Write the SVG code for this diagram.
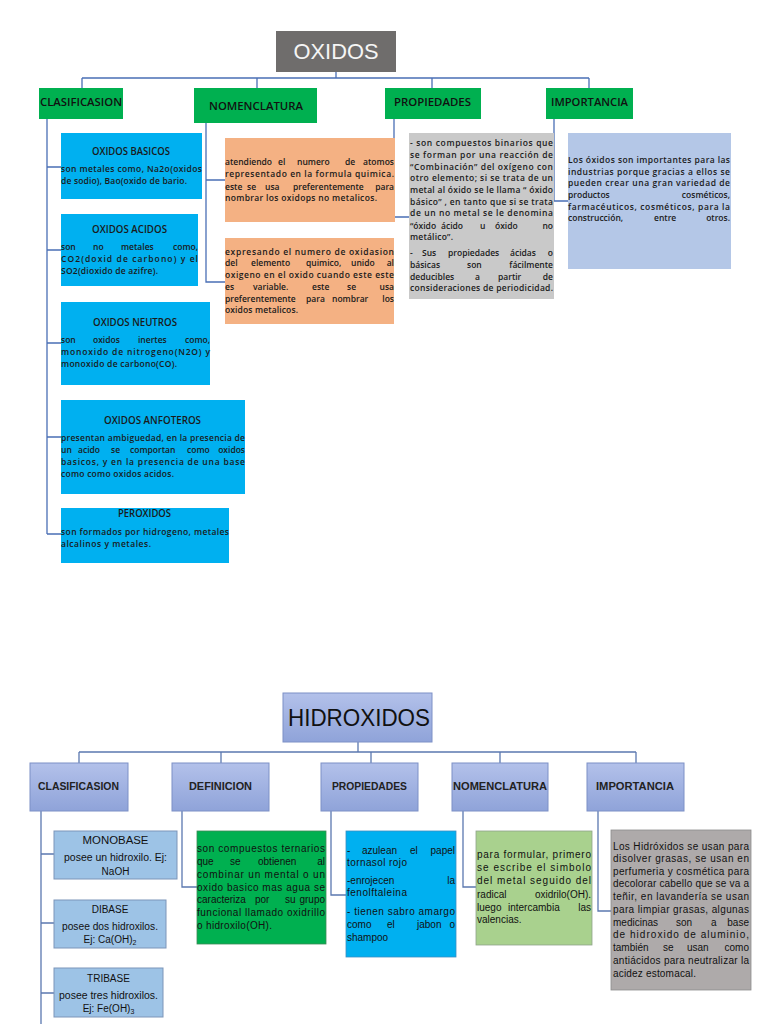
<svg xmlns="http://www.w3.org/2000/svg" width="768" height="1024" viewBox="0 0 768 1024">
<defs>
<linearGradient id="gb" x1="0" y1="0" x2="0" y2="1">
<stop offset="0" stop-color="#b3c1ea"/>
<stop offset="1" stop-color="#8fa3d9"/>
</linearGradient>
<style>
.t{font-family:"Open Sans","Liberation Sans",sans-serif;font-size:8.5px;font-weight:600;fill:#1a1a1a}
.tt{font-family:"Open Sans","Liberation Sans",sans-serif;font-size:10px;font-weight:600;fill:#1a1a1a}
.h{font-family:"Open Sans","Liberation Sans",sans-serif;font-size:10.5px;font-weight:600;fill:#111}
.b{font-family:"Liberation Sans","Open Sans",sans-serif;font-size:10px;fill:#111}
.bh{font-family:"Liberation Sans","Open Sans",sans-serif;font-size:10.5px;font-weight:bold;fill:#222}
.e{text-anchor:end}
.m{text-anchor:middle}
.c1{stroke:#4a6fb5;stroke-width:1.3;fill:none}
.c2{stroke:#5b78b0;stroke-width:1.3;fill:none}
.gh{fill:url(#gb);stroke:#7d90c6;stroke-width:1}
.sb{fill:#9dc3e6;stroke:#7c95b9;stroke-width:1}
</style>
</defs>
<rect width="768" height="1024" fill="#ffffff"/>

<g id="connectors">
<path class="c1" d="M336 72V78M82 78H589M82 78V88M257 78V88M432 78V88M589 78V88"/>
<path class="c1" d="M47 119V534M47 167H61M47 250H61M47 343H61M47 437H61M47 534H61"/>
<path class="c1" d="M206 123V282H225M206 180H225"/>
<path class="c1" d="M394 119V217H409"/>
<path class="c1" d="M554 119V201H568"/>
<path class="c2" d="M358 742V752M79 752H636M79 752V763M221 752V763M371 752V763M500 752V763M636 752V763"/>
<path class="c2" d="M41 811V1024M41 854H54M41 923H54M41 993H54"/>
<path class="c2" d="M182 811V887H197"/>
<path class="c2" d="M331 811V895H346"/>
<path class="c2" d="M463 811V887H476"/>
<path class="c2" d="M598 811V911H611"/>
</g>

<g id="oxidos">
<rect x="276" y="31" width="120" height="41" fill="#6f6d6c"/>
<text x="336" y="59" class="m" font-family="Liberation Sans, sans-serif" font-size="22" fill="#f5f5f5" textLength="85" lengthAdjust="spacingAndGlyphs">OXIDOS</text>
</g>

<g id="clasificasion-top">
<rect x="39" y="88" width="84" height="31" fill="#00b050"/>
<text x="40" y="106" class="h" textLength="82" lengthAdjust="spacingAndGlyphs">CLASIFICASION</text>
</g>
<g id="nomenclatura-top">
<rect x="194" y="88" width="123" height="35" fill="#00b050"/>
<text x="209" y="110" class="h" textLength="94" lengthAdjust="spacingAndGlyphs">NOMENCLATURA</text>
</g>
<g id="propiedades-top">
<rect x="385" y="88" width="96" height="31" fill="#00b050"/>
<text x="394" y="106" class="h" textLength="77" lengthAdjust="spacingAndGlyphs">PROPIEDADES</text>
</g>
<g id="importancia-top">
<rect x="546" y="88" width="87" height="31" fill="#00b050"/>
<text x="551" y="106" class="h" textLength="77" lengthAdjust="spacingAndGlyphs">IMPORTANCIA</text>
</g>

<g id="oxidos-basicos">
<rect x="61" y="133" width="141" height="66" fill="#00b0f0"/>
<text x="131" y="155" class="tt m" textLength="78" lengthAdjust="spacingAndGlyphs">OXIDOS BASICOS</text>
<text x="61" y="172" class="t" textLength="141" lengthAdjust="spacing">son metales como, Na2o(oxidos</text>
<text x="61" y="184" class="t" textLength="126" lengthAdjust="spacing">de sodio), Bao(oxido de bario.</text>
</g>

<g id="oxidos-acidos">
<rect x="61" y="214" width="137" height="72" fill="#00b0f0"/>
<text x="129.5" y="233" class="tt m" textLength="75" lengthAdjust="spacingAndGlyphs">OXIDOS ACIDOS</text>
<text y="250" class="t"><tspan x="61">son</tspan><tspan x="93">no</tspan><tspan x="121">metales</tspan><tspan x="198" class="e">como,</tspan></text>
<text x="61" y="262" class="t" textLength="137" lengthAdjust="spacing">CO2(doxid de carbono) y el</text>
<text x="61" y="274" class="t" textLength="97" lengthAdjust="spacing">SO2(dioxido de azifre).</text>
</g>

<g id="oxidos-neutros">
<rect x="61" y="302" width="149" height="83" fill="#00b0f0"/>
<text x="135" y="326" class="tt m" textLength="84" lengthAdjust="spacingAndGlyphs">OXIDOS NEUTROS</text>
<text y="343" class="t"><tspan x="61">son</tspan><tspan x="93">oxidos</tspan><tspan x="138">inertes</tspan><tspan x="210" class="e">como,</tspan></text>
<text x="61" y="355" class="t" textLength="149" lengthAdjust="spacing">monoxido de nitrogeno(N2O) y</text>
<text x="61" y="367" class="t" textLength="116" lengthAdjust="spacing">monoxido de carbono(CO).</text>
</g>

<g id="oxidos-anfoteros">
<rect x="61" y="400" width="184" height="94" fill="#00b0f0"/>
<text x="152.5" y="424" class="tt m" textLength="97" lengthAdjust="spacingAndGlyphs">OXIDOS ANFOTEROS</text>
<text x="61" y="441" class="t" textLength="184" lengthAdjust="spacing">presentan ambiguedad, en la presencia de</text>
<text y="453" class="t"><tspan x="61">un</tspan><tspan x="78">acido</tspan><tspan x="111">se</tspan><tspan x="130">comportan</tspan><tspan x="187">como</tspan><tspan x="245" class="e">oxidos</tspan></text>
<text x="61" y="465" class="t" textLength="184" lengthAdjust="spacing">basicos, y en la presencia de una base</text>
<text x="61" y="477" class="t" textLength="113" lengthAdjust="spacing">como como oxidos acidos.</text>
</g>

<g id="peroxidos">
<rect x="61" y="508" width="168" height="55" fill="#00b0f0"/>
<text x="144.5" y="517" class="tt m" textLength="53" lengthAdjust="spacingAndGlyphs">PEROXIDOS</text>
<text x="61" y="535" class="t" textLength="168" lengthAdjust="spacing">son formados por hidrogeno, metales</text>
<text x="61" y="547" class="t" textLength="90" lengthAdjust="spacing">alcalinos y metales.</text>
</g>

<g id="nomenclatura-atomos">
<rect x="225" y="138" width="170" height="84" fill="#f4b183"/>
<text y="165" class="t"><tspan x="225">atendiendo</tspan><tspan x="278">el</tspan><tspan x="297">numero</tspan><tspan x="345">de</tspan><tspan x="394" class="e">atomos</tspan></text>
<text x="225" y="177" class="t" textLength="169" lengthAdjust="spacing">representado en la formula quimica.</text>
<text y="190" class="t"><tspan x="225">este</tspan><tspan x="247">se</tspan><tspan x="265">usa</tspan><tspan x="293">preferentemente</tspan><tspan x="394" class="e">para</tspan></text>
<text x="225" y="201" class="t" textLength="152" lengthAdjust="spacing">nombrar los oxidops no metalicos.</text>
</g>

<g id="nomenclatura-oxidasion">
<rect x="225" y="238" width="169" height="86" fill="#f4b183"/>
<text x="225" y="255" class="t" textLength="169" lengthAdjust="spacing">expresando el numero de oxidasion</text>
<text y="266" class="t"><tspan x="225">del</tspan><tspan x="251">elemento</tspan><tspan x="306">quimico,</tspan><tspan x="351">unido</tspan><tspan x="394" class="e">al</tspan></text>
<text x="225" y="278" class="t" textLength="169" lengthAdjust="spacing">oxigeno en el oxido cuando este este</text>
<text y="290" class="t"><tspan x="225">es</tspan><tspan x="253">variable.</tspan><tspan x="312">este</tspan><tspan x="347">se</tspan><tspan x="394" class="e">usa</tspan></text>
<text y="302" class="t"><tspan x="225">preferentemente</tspan><tspan x="306">para</tspan><tspan x="332">nombrar</tspan><tspan x="394" class="e">los</tspan></text>
<text x="225" y="313" class="t" textLength="73" lengthAdjust="spacing">oxidos metalicos.</text>
</g>

<g id="propiedades-texto">
<rect x="409" y="133" width="145" height="166" fill="#c9c9c9"/>
<text x="410" y="146" class="t" textLength="143" lengthAdjust="spacing">- son compuestos binarios que</text>
<text x="410" y="158" class="t" textLength="143" lengthAdjust="spacing">se forman por una reacción de</text>
<text x="410" y="170" class="t" textLength="143" lengthAdjust="spacing">“Combinación” del oxígeno con</text>
<text x="410" y="181" class="t" textLength="143" lengthAdjust="spacing">otro elemento; si se trata de un</text>
<text x="410" y="193" class="t" textLength="143" lengthAdjust="spacing">metal al óxido se le llama “ óxido</text>
<text x="410" y="205" class="t" textLength="143" lengthAdjust="spacing">básico” , en tanto que si se trata</text>
<text x="410" y="216" class="t" textLength="143" lengthAdjust="spacing">de un no metal se le denomina</text>
<text y="229" class="t"><tspan x="410">“óxido</tspan><tspan x="441">ácido</tspan><tspan x="480">u</tspan><tspan x="495">óxido</tspan><tspan x="553" class="e">no</tspan></text>
<text x="410" y="240" class="t" textLength="43" lengthAdjust="spacing">metálico”.</text>
<text y="256" class="t"><tspan x="410">-</tspan><tspan x="422">Sus</tspan><tspan x="448">propiedades</tspan><tspan x="510">ácidas</tspan><tspan x="553" class="e">o</tspan></text>
<text y="268" class="t"><tspan x="410">básicas</tspan><tspan x="467">son</tspan><tspan x="553" class="e">fácilmente</tspan></text>
<text y="280" class="t"><tspan x="410">deducibles</tspan><tspan x="475">a</tspan><tspan x="498">partir</tspan><tspan x="553" class="e">de</tspan></text>
<text x="410" y="291" class="t" textLength="143" lengthAdjust="spacing">consideraciones de periodicidad.</text>
</g>

<g id="importancia-texto">
<rect x="568" y="133" width="163" height="136" fill="#b4c7e7"/>
<text x="568" y="163" class="t" textLength="162" lengthAdjust="spacing">Los óxidos son importantes para las</text>
<text x="568" y="175" class="t" textLength="162" lengthAdjust="spacing">industrias porque gracias a ellos se</text>
<text x="568" y="186" class="t" textLength="162" lengthAdjust="spacing">pueden crear una gran variedad de</text>
<text y="198" class="t"><tspan x="568">productos</tspan><tspan x="730" class="e">cosméticos,</tspan></text>
<text x="568" y="210" class="t" textLength="162" lengthAdjust="spacing">farmacéuticos, cosméticos, para la</text>
<text y="221" class="t"><tspan x="568">construcción,</tspan><tspan x="654">entre</tspan><tspan x="730" class="e">otros.</tspan></text>
</g>

<g id="hidroxidos">
<rect x="283" y="693" width="149" height="49" class="gh"/>
<text x="288" y="726" font-family="Liberation Sans, sans-serif" font-size="24" fill="#111" textLength="142" lengthAdjust="spacingAndGlyphs">HIDROXIDOS</text>
</g>

<g id="clasificasion-bottom">
<rect x="30" y="763" width="98" height="48" class="gh"/>
<text x="78.5" y="790" class="bh m" textLength="81" lengthAdjust="spacingAndGlyphs">CLASIFICASION</text>
</g>
<g id="definicion">
<rect x="172" y="763" width="97" height="48" class="gh"/>
<text x="220.5" y="790" class="bh m" textLength="63" lengthAdjust="spacingAndGlyphs">DEFINICION</text>
</g>
<g id="propiedades-bottom">
<rect x="321" y="763" width="97" height="48" class="gh"/>
<text x="369.5" y="790" class="bh m" textLength="75" lengthAdjust="spacingAndGlyphs">PROPIEDADES</text>
</g>
<g id="nomenclatura-bottom">
<rect x="452" y="763" width="96" height="48" class="gh"/>
<text x="500" y="790" class="bh m" textLength="94" lengthAdjust="spacingAndGlyphs">NOMENCLATURA</text>
</g>
<g id="importancia-bottom">
<rect x="587" y="763" width="97" height="48" class="gh"/>
<text x="635" y="790" class="bh m" textLength="78" lengthAdjust="spacingAndGlyphs">IMPORTANCIA</text>
</g>

<g id="monobase">
<rect x="54" y="831" width="123" height="48" class="sb"/>
<text x="115.5" y="844" class="b m" textLength="66" lengthAdjust="spacingAndGlyphs">MONOBASE</text>
<text x="115.5" y="861" class="b m" textLength="103" lengthAdjust="spacingAndGlyphs">posee un hidroxilo. Ej:</text>
<text x="115.5" y="875" class="b m">NaOH</text>
</g>
<g id="dibase">
<rect x="54" y="900" width="112" height="48" class="sb"/>
<text x="110" y="913" class="b m">DIBASE</text>
<text x="110" y="930" class="b m" textLength="96" lengthAdjust="spacingAndGlyphs">posee dos hidroxilos.</text>
<text x="110" y="943" class="b m">Ej: Ca(OH)<tspan font-size="7" dy="2">2</tspan></text>
</g>
<g id="tribase">
<rect x="54" y="968" width="109" height="49" class="sb"/>
<text x="108.5" y="982" class="b m">TRIBASE</text>
<text x="108.5" y="999" class="b m" textLength="99" lengthAdjust="spacingAndGlyphs">posee tres hidroxilos.</text>
<text x="108.5" y="1012" class="b m">Ej: Fe(OH)<tspan font-size="7" dy="2">3</tspan></text>
</g>

<g id="definicion-texto">
<rect x="197" y="831" width="129" height="113" fill="#00b050" stroke="#3d8a55" stroke-width="0.8"/>
<text x="197" y="852" class="b" textLength="128" lengthAdjust="spacing">son compuestos ternarios</text>
<text y="865" class="b"><tspan x="197">que</tspan><tspan x="230">se</tspan><tspan x="258">obtienen</tspan><tspan x="325" class="e">al</tspan></text>
<text x="197" y="878" class="b" textLength="128" lengthAdjust="spacing">combinar un mental o un</text>
<text x="197" y="891" class="b" textLength="128" lengthAdjust="spacing">oxido basico mas agua se</text>
<text y="903" class="b"><tspan x="197">caracteriza</tspan><tspan x="255">por</tspan><tspan x="285">su</tspan><tspan x="325" class="e">grupo</tspan></text>
<text x="197" y="916" class="b" textLength="128" lengthAdjust="spacing">funcional llamado oxidrillo</text>
<text x="197" y="929" class="b" textLength="75" lengthAdjust="spacing">o hidroxilo(OH).</text>
</g>

<g id="propiedades-bottom-texto">
<rect x="346" y="831" width="110" height="126" fill="#00b0f0" stroke="#3b8fc2" stroke-width="0.8"/>
<text y="854" class="b"><tspan x="347">-</tspan><tspan x="362">azulean</tspan><tspan x="410">el</tspan><tspan x="455" class="e">papel</tspan></text>
<text x="347" y="866" class="b" textLength="60" lengthAdjust="spacing">tornasol rojo</text>
<text y="884" class="b"><tspan x="347">-enrojecen</tspan><tspan x="455" class="e">la</tspan></text>
<text x="347" y="896" class="b" textLength="60" lengthAdjust="spacing">fenolftaleina</text>
<text x="347" y="915" class="b" textLength="108" lengthAdjust="spacing">- tienen sabro amargo</text>
<text y="928" class="b"><tspan x="347">como</tspan><tspan x="387">el</tspan><tspan x="417">jabon</tspan><tspan x="455" class="e">o</tspan></text>
<text x="347" y="941" class="b">shampoo</text>
</g>

<g id="nomenclatura-bottom-texto">
<rect x="476" y="831" width="116" height="114" fill="#a9d18e" stroke="#8fa38a" stroke-width="0.8"/>
<text x="477" y="858" class="b" textLength="114" lengthAdjust="spacing">para formular, primero</text>
<text x="477" y="871" class="b" textLength="114" lengthAdjust="spacing">se escribe el simbolo</text>
<text x="477" y="884" class="b" textLength="114" lengthAdjust="spacing">del metal seguido del</text>
<text y="898" class="b"><tspan x="477">radical</tspan><tspan x="591" class="e">oxidrilo(OH).</tspan></text>
<text y="911" class="b"><tspan x="477">luego</tspan><tspan x="508">intercambia</tspan><tspan x="591" class="e">las</tspan></text>
<text x="477" y="923" class="b">valencias.</text>
</g>

<g id="importancia-bottom-texto">
<rect x="611" y="830" width="140" height="160" fill="#aeaaaa" stroke="#8c8c8c" stroke-width="0.8"/>
<text x="613" y="850" class="b" textLength="136" lengthAdjust="spacing">Los Hidróxidos se usan para</text>
<text x="613" y="862" class="b" textLength="136" lengthAdjust="spacing">disolver grasas, se usan en</text>
<text x="613" y="875" class="b" textLength="136" lengthAdjust="spacing">perfumeria y cosmética para</text>
<text x="613" y="887" class="b" textLength="136" lengthAdjust="spacing">decolorar cabello que se va a</text>
<text x="613" y="900" class="b" textLength="136" lengthAdjust="spacing">teñir, en lavandería se usan</text>
<text x="613" y="913" class="b" textLength="136" lengthAdjust="spacing">para limpiar grasas, algunas</text>
<text y="926" class="b"><tspan x="613">medicinas</tspan><tspan x="676">son</tspan><tspan x="711">a</tspan><tspan x="749" class="e">base</tspan></text>
<text x="613" y="938" class="b" textLength="136" lengthAdjust="spacing">de hidroxido de aluminio,</text>
<text y="951" class="b"><tspan x="613">también</tspan><tspan x="663">se</tspan><tspan x="687">usan</tspan><tspan x="749" class="e">como</tspan></text>
<text x="613" y="964" class="b" textLength="136" lengthAdjust="spacing">antiácidos para neutralizar la</text>
<text x="613" y="977" class="b" textLength="83" lengthAdjust="spacing">acidez estomacal.</text>
</g>
</svg>
